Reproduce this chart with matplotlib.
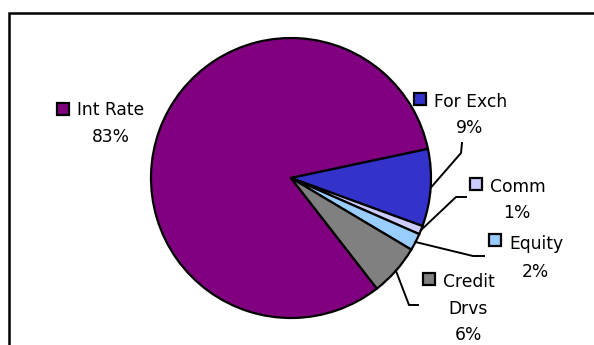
import matplotlib
matplotlib.use("Agg")
import matplotlib.pyplot as plt
from matplotlib.patches import Rectangle
import numpy as np

# exposure by risk type, percent of total
categorias = ["Int Rate", "For Exch", "Comm", "Equity", "Credit\nDrvs"]
valores = [83, 9, 1, 2, 6]
cores = ["#800080", "#3333CC", "#CCCCFF", "#99CCFF", "#808080"]

W, H = 594, 345
centro = (291, 167)
raio = 140

# label layout: key square (x, y center), name baseline, percent (x center, baseline), elbow
layout = [
    (57, 236, 230, 111, 203, None),
    (414, 246, 238, 470, 212, [(462, 202), (461, 192)]),
    (470, 161, 153, 517, 127, [(466, 148), (456, 148)]),
    (489, 105, 96, 535, 68, [(484, 89), (473, 89)]),
    (423, 66, 58, 468, 5, [(418, 40), (409, 40)]),
]

fig = plt.figure(figsize=(W / 100, H / 100), dpi=100)
ax = fig.add_axes([0, 0, 1, 1])

total = sum(valores)
inicio = 12 + valores[0] / total * 360
wedges, _ = ax.pie(valores, colors=cores, startangle=inicio, counterclock=False,
                   center=centro, radius=raio, frame=True,
                   wedgeprops=dict(edgecolor="black", linewidth=1.6))
ax.set_xlim(0, W)
ax.set_ylim(0, H)
ax.set_aspect("equal")
ax.axis("off")

fonte = dict(family="DejaVu Sans", fontsize=12.3, color="black")

for w, cat, v, cor, (qx, qy, ny, px, py, cotovelo) in zip(wedges, categorias, valores, cores, layout):
    # key square + category name
    ax.add_patch(Rectangle((qx, qy - 6), 12, 12, facecolor=cor, edgecolor="black", lw=1.6))
    linhas = cat.split("\n")
    ax.text(qx + 20, ny, linhas[0], ha="left", va="baseline", **fonte)
    if len(linhas) > 1:
        ax.text(px, (ny + py) / 2, linhas[1], ha="center", va="baseline", **fonte)
    ax.text(px, py, f"{v}%", ha="center", va="baseline", **fonte)

    if cotovelo is not None:
        ang = np.deg2rad((w.theta1 + w.theta2) / 2)
        borda = (centro[0] + raio * np.cos(ang), centro[1] + raio * np.sin(ang))
        pts = cotovelo + [borda]
        ax.plot([p[0] for p in pts], [p[1] for p in pts], color="black", lw=1.4)

# chart area border (runs off the right and bottom edge)
ax.add_patch(Rectangle((8.5, -10), W + 20, 332.5 + 10, facecolor="none",
                       edgecolor="black", lw=1.8, clip_on=True))

fig.savefig("out.png", dpi=100)
